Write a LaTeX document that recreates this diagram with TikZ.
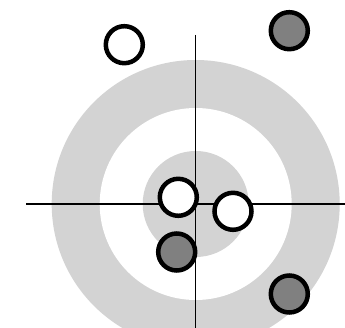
\documentclass[tikz,border=0pt]{standalone}
\usepackage{xcolor}
\definecolor{ringgray}{HTML}{D3D3D3}
\definecolor{hitgray}{HTML}{808080}
\tikzset{
  shot/.style={circle,draw=black,line width=4.5pt,minimum size=37pt,inner sep=0pt,fill=white},
  hit/.style={shot,fill=hitgray}
}
\begin{document}
\begin{tikzpicture}[x=1pt,y=-1pt]

% Rahmen
\useasboundingbox (0,0) rectangle (345,328);
\clip (0,0) rectangle (345,328);

% Zielscheibe
\fill[ringgray] (195.7,204) circle (144);
\fill[white] (195.7,204) circle (96);
\fill[ringgray] (195.7,204) circle (53);

% Achsen
\coordinate (left) at (26,204);
\coordinate (right) at (345,204);
\coordinate (top) at (195.7,35);
\coordinate (bottom) at (195.7,328);
\draw[line width=1.3pt] (left) -- (right);
\draw[line width=1.3pt] (top) -- (bottom);

% Treffer (weiss)
\node[shot] (w1) at (124.3,44.7) {};
\node[shot] (w2) at (178.3,197.3) {};
\node[shot] (w3) at (233,211.3) {};

% Treffer (grau)
\node[hit] (g1) at (289.3,30.7) {};
\node[hit] (g2) at (176.7,252) {};
\node[hit] (g3) at (289.3,294) {};

\end{tikzpicture}
\end{document}
